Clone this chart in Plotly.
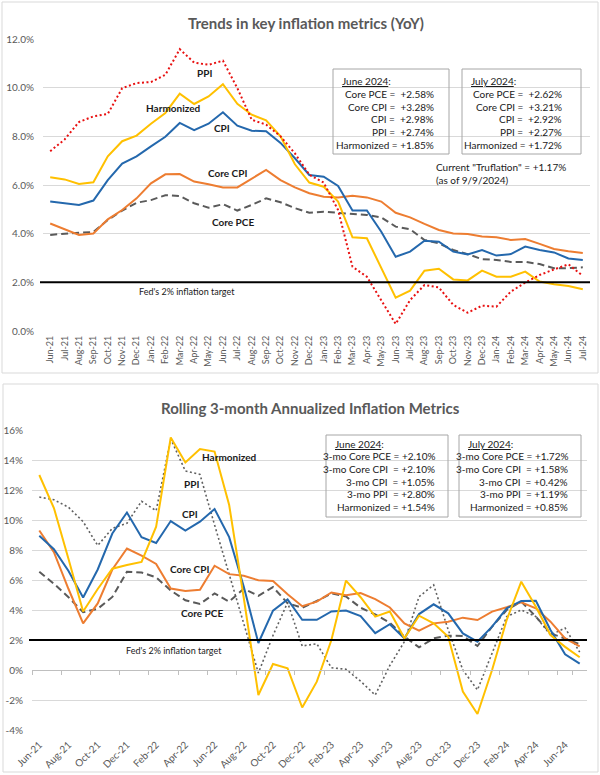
import plotly.graph_objects as go

# ---------------- data ----------------
MONTHS = ["Jun-21", "Jul-21", "Aug-21", "Sep-21", "Oct-21", "Nov-21", "Dec-21",
          "Jan-22", "Feb-22", "Mar-22", "Apr-22", "May-22", "Jun-22", "Jul-22",
          "Aug-22", "Sep-22", "Oct-22", "Nov-22", "Dec-22", "Jan-23", "Feb-23",
          "Mar-23", "Apr-23", "May-23", "Jun-23", "Jul-23", "Aug-23", "Sep-23",
          "Oct-23", "Nov-23", "Dec-23", "Jan-24", "Feb-24", "Mar-24", "Apr-24",
          "May-24", "Jun-24", "Jul-24"]

# Chart 1: year-over-year (%)
YOY_PPI = [7.39, 7.87, 8.59, 8.82, 8.92, 9.98, 10.19, 10.23, 10.53, 11.58, 11.03, 10.94,
           11.11, 9.98, 8.68, 8.48, 8.0, 7.3, 6.42, 6.1, 4.97, 2.64, 2.23, 1.27, 0.29,
           1.27, 1.89, 1.79, 1.07, 0.75, 1.04, 1.0, 1.62, 1.99, 2.30, 2.53, 2.74, 2.27]
YOY_HARMONIZED = [6.32, 6.23, 6.04, 6.11, 7.18, 7.8, 8.03, 8.52, 8.96, 9.75, 9.33, 9.64,
                  10.14, 9.34, 8.89, 8.66, 8.0, 6.85, 6.1, 5.93, 5.32, 3.85, 3.81, 2.58,
                  1.37, 1.66, 2.48, 2.56, 2.12, 2.08, 2.48, 2.23, 2.23, 2.44, 2.03, 1.92,
                  1.85, 1.72]
YOY_CPI = [5.32, 5.25, 5.18, 5.36, 6.2, 6.88, 7.18, 7.59, 7.98, 8.55, 8.25, 8.52, 8.99,
           8.44, 8.23, 8.21, 7.73, 7.1, 6.41, 6.34, 5.96, 4.95, 4.95, 4.08, 3.05, 3.26,
           3.71, 3.67, 3.26, 3.15, 3.33, 3.10, 3.16, 3.47, 3.33, 3.23, 2.98, 2.92]
YOY_CORE_CPI = [4.42, 4.18, 3.95, 4.01, 4.59, 4.97, 5.45, 6.07, 6.44, 6.45, 6.14, 6.03,
                5.9, 5.9, 6.27, 6.62, 6.2, 5.9, 5.66, 5.52, 5.49, 5.56, 5.49, 5.32, 4.86,
                4.67, 4.4, 4.15, 4.01, 3.99, 3.88, 3.85, 3.74, 3.78, 3.58, 3.37, 3.28, 3.21]
YOY_CORE_PCE = [3.95, 4.01, 4.04, 4.07, 4.56, 4.95, 5.27, 5.38, 5.58, 5.55, 5.25, 5.07,
                5.21, 4.95, 5.18, 5.45, 5.29, 5.05, 4.86, 4.9, 4.86, 4.79, 4.77, 4.67,
                4.29, 4.18, 3.74, 3.6, 3.33, 3.16, 2.95, 2.92, 2.84, 2.84, 2.75, 2.58,
                2.58, 2.62]

# Chart 2: rolling 3-month annualized (%)
R3_PPI = [11.53, 11.35, 10.85, 9.89, 8.3, 9.44, 9.78, 11.25, 10.62, 15.4, 13.27, 13.04,
          9.67, 6.4, 3.0, -0.2, 2.3, 4.5, 1.6, 1.75, 0.15, 0.05, -0.75, -1.67, 0.3, 1.89,
          4.89, 5.67, 2.67, 0.0, -1.33, 1.11, 3.56, 4.0, 3.56, 2.33, 2.80, 1.19]
R3_HARMONIZED = [13.0, 10.8, 7.4, 3.9, 5.4, 6.75, 7.0, 7.2, 9.56, 15.5, 13.84, 14.73,
                 14.56, 11.0, 4.8, -1.67, 0.4, 0.11, -2.5, -0.78, 2.0, 5.96, 4.85, 3.56,
                 3.9, 2.11, 3.62, 3.11, 2.22, -1.44, -2.93, 0.0, 3.33, 5.89, 4.22, 2.33,
                 1.54, 0.85]
R3_CPI = [8.95, 8.05, 6.6, 4.83, 6.7, 9.1, 10.5, 8.85, 8.47, 9.93, 9.29, 9.89, 10.73,
          8.86, 5.55, 1.8, 3.96, 4.7, 3.35, 3.35, 3.9, 3.96, 3.6, 2.46, 3.05, 2.11, 3.73,
          4.38, 3.78, 2.44, 1.89, 2.89, 4.11, 4.6, 4.62, 2.67, 1.05, 0.42]
R3_CORE_CPI = [9.3, 7.85, 5.4, 3.11, 4.44, 6.7, 8.1, 7.62, 7.07, 5.43, 5.27, 5.35, 6.95,
               6.39, 6.28, 5.98, 5.93, 5.05, 4.25, 4.56, 5.17, 4.98, 5.13, 4.72, 4.17,
               3.11, 2.62, 3.11, 3.22, 3.49, 3.33, 3.89, 4.18, 4.51, 4.11, 3.22, 2.10, 1.58]
R3_CORE_PCE = [6.55, 5.75, 4.85, 3.85, 4.08, 4.87, 6.55, 6.5, 6.18, 5.3, 4.65, 4.4, 5.1,
               4.56, 5.42, 4.95, 5.53, 4.45, 4.15, 4.6, 5.11, 4.9, 4.15, 3.7, 3.15, 2.22,
               1.51, 2.11, 2.29, 2.27, 1.6, 2.89, 4.0, 4.56, 3.56, 2.44, 2.10, 1.72]

FED_TARGET = 2.0
TRUFLATION = 1.17
TRUFLATION_DATE = "9/9/2024"

Y1_TICKS = [0, 2, 4, 6, 8, 10, 12]
Y1_TICKTEXT = ["0.0%", "2.0%", "4.0%", "6.0%", "8.0%", "10.0%", "12.0%"]
Y2_TICKS = [-4, -2, 0, 2, 4, 6, 8, 10, 12, 14, 16]
Y2_TICKTEXT = ["-4%", "-2%", "0%", "2%", "4%", "6%", "8%", "10%", "12%", "14%", "16%"]

# ---------------- layout helpers ----------------
W, H = 600, 775
FONT = "Lato, 'Open Sans', sans-serif"
GRID = "#d9d9d9"
AXTXT = "#595959"


def px(x):
    return x / W


def py(y):
    return 1 - y / H


C_PPI = "#e81010"
C_HARM = "#ffc000"
C_CPI = "#2468ad"
C_CORECPI = "#ed7d31"
C_COREPCE = "#5a5a5a"

fig = go.Figure()

# chart 1 traces
chart1 = [
    ("Core PCE", YOY_CORE_PCE, dict(color=C_COREPCE, width=2, dash="7px,4px")),
    ("Core CPI", YOY_CORE_CPI, dict(color=C_CORECPI, width=2)),
    ("CPI", YOY_CPI, dict(color=C_CPI, width=2)),
    ("Harmonized", YOY_HARMONIZED, dict(color=C_HARM, width=2)),
    ("PPI", YOY_PPI, dict(color=C_PPI, width=2, dash="2px,2.5px")),
]
for name, vals, line in chart1:
    fig.add_trace(go.Scatter(x=MONTHS, y=vals, mode="lines", line=line, name=name,
                             xaxis="x", yaxis="y", showlegend=False, hoverinfo="skip"))

# chart 2 traces
chart2 = [
    ("PPI", R3_PPI, dict(color="#606060", width=1.6, dash="2px,2.5px")),
    ("Core PCE", R3_CORE_PCE, dict(color=C_COREPCE, width=2, dash="7px,4px")),
    ("Core CPI", R3_CORE_CPI, dict(color=C_CORECPI, width=2)),
    ("CPI", R3_CPI, dict(color=C_CPI, width=2)),
    ("Harmonized", R3_HARMONIZED, dict(color=C_HARM, width=2)),
]
for name, vals, line in chart2:
    fig.add_trace(go.Scatter(x=MONTHS, y=vals, mode="lines", line=line, name=name,
                             xaxis="x2", yaxis="y2", showlegend=False, hoverinfo="skip"))

# dummy trace for the zero-line axis with ticks (chart 2)
fig.add_trace(go.Scatter(x=MONTHS, y=[None] * len(MONTHS), mode="lines",
                         xaxis="x3", yaxis="y2", showlegend=False, hoverinfo="skip"))

# plot areas (pixel geometry)
P1 = dict(l=43, r=590, t=39, b=331)
P2 = dict(l=32, r=587, t=430, b=730)

rng = [-0.5, len(MONTHS) - 0.5]

fig.update_layout(
    width=W, height=H, autosize=False,
    margin=dict(l=0, r=0, t=0, b=0, pad=0),
    paper_bgcolor="white", plot_bgcolor="white",
    font=dict(family=FONT, color=AXTXT),
    showlegend=False,
    xaxis=dict(domain=[px(P1["l"]), px(P1["r"])], anchor="y", type="category",
               categoryorder="array", categoryarray=MONTHS, range=rng,
               tickangle=-90, tickfont=dict(size=9, color=AXTXT), showgrid=False,
               zeroline=False, showline=False, ticks="", ticklabelstandoff=2,
               tickmode="array", tickvals=MONTHS, ticktext=MONTHS, automargin=False),
    yaxis=dict(domain=[py(P1["b"]), py(P1["t"])], anchor="x", range=[0, 12],
               tickmode="array", tickvals=Y1_TICKS, ticktext=Y1_TICKTEXT,
               tickfont=dict(size=10, color=AXTXT), gridcolor=GRID, gridwidth=1,
               zeroline=False, showline=False, ticklabelstandoff=8, automargin=False),
    xaxis2=dict(domain=[px(P2["l"]), px(P2["r"])], anchor="y2", type="category",
                categoryorder="array", categoryarray=MONTHS, range=rng,
                tickangle=-45, tickfont=dict(size=10, color=AXTXT), showgrid=False,
                zeroline=False, showline=False, ticks="", ticklabelstandoff=6,
                tickmode="array", tickvals=MONTHS[::2], ticktext=MONTHS[::2],
                automargin=False),
    yaxis2=dict(domain=[py(P2["b"]), py(P2["t"])], anchor="x2", range=[-4, 16],
                tickmode="array", tickvals=Y2_TICKS, ticktext=Y2_TICKTEXT,
                tickfont=dict(size=10, color=AXTXT), gridcolor=GRID, gridwidth=1,
                zeroline=False, showline=False, ticklabelstandoff=8, automargin=False),
    xaxis3=dict(overlaying="x2", anchor="free", position=py(670), type="category",
                categoryorder="array", categoryarray=MONTHS, range=rng,
                tickmode="array", tickvals=MONTHS[::2], tickson="boundaries",
                ticks="outside", ticklen=4, tickcolor="#bfbfbf", showticklabels=False,
                showgrid=False, zeroline=False, showline=True, linecolor="#bfbfbf",
                linewidth=1, automargin=False),
)

shapes = []
# outer chart borders
shapes.append(dict(type="rect", xref="paper", yref="paper", x0=px(2), x1=px(598),
                   y0=py(373), y1=py(2), line=dict(color="#d9d9d9", width=1)))
shapes.append(dict(type="rect", xref="paper", yref="paper", x0=px(3), x1=px(598),
                   y0=py(772), y1=py(384), line=dict(color="#d9d9d9", width=1)))
# Fed target lines
shapes.append(dict(type="line", xref="paper", yref="y", x0=px(40), x1=px(590),
                   y0=FED_TARGET, y1=FED_TARGET, line=dict(color="black", width=2)))
shapes.append(dict(type="line", xref="paper", yref="y2", x0=px(29), x1=px(587),
                   y0=FED_TARGET, y1=FED_TARGET, line=dict(color="black", width=2)))
# text boxes
for (x0, x1, y0, y1) in [(333, 449, 69, 154), (462, 581, 69, 154),
                         (326, 448, 435, 517), (459, 581, 435, 517)]:
    shapes.append(dict(type="rect", xref="paper", yref="paper", x0=px(x0), x1=px(x1),
                       y0=py(y1), y1=py(y0), line=dict(color="#a6a6a6", width=1)))
fig.update_layout(shapes=shapes)

ann = []


def text(x, y, s, size=10, bold=False, xanchor="center", color="#1a1a1a"):
    ann.append(dict(xref="paper", yref="paper", x=px(x), y=py(y), text=s,
                    showarrow=False, xanchor=xanchor, yanchor="middle",
                    font=dict(family=FONT, size=size, color=color,
                              weight="bold" if bold else "normal")))


# titles
text(306, 23, "Trends in key inflation metrics (YoY)", size=15, bold=True, color=AXTXT)
text(310, 408, "Rolling 3-month Annualized Inflation Metrics", size=15, bold=True,
     color=AXTXT)

# series labels chart 1
text(204, 73, "PPI", bold=True)
text(173, 108, "Harmonized", bold=True)
text(222, 128, "CPI", bold=True)
text(227, 173, "Core CPI", bold=True)
text(233, 222, "Core PCE", bold=True)
text(187, 292, "Fed's 2% inflation target", size=9)

# series labels chart 2
text(229, 457, "Harmonized", bold=True)
text(191, 484, "PPI", bold=True)
text(190, 514, "CPI", bold=True)
text(189, 569, "Core CPI", bold=True)
text(202, 613, "Core PCE", bold=True)
text(174, 650, "Fed's 2% inflation target", size=9)

NB = "\u00a0"
JUN = MONTHS.index("Jun-24")
JUL = MONTHS.index("Jul-24")


def box(heading, hx, rx, ys, rows, idx):
    text(hx, ys[0], f"<u>{heading}</u>:", xanchor="left")
    for (label, vals), y in zip(rows, ys[1:]):
        text(rx, y, f"{label}{NB}+{vals[idx]:.2f}%", xanchor="right")


rows1 = [("Core PCE =" + NB, YOY_CORE_PCE), ("Core CPI =" + NB, YOY_CORE_CPI),
         ("CPI =" + NB, YOY_CPI), ("PPI =" + NB, YOY_PPI),
         ("Harmonized =", YOY_HARMONIZED)]
ys1 = [81, 94, 107, 119, 132, 145]
box("June 2024", 340, 436, ys1, rows1, JUN)
box("July 2024", 469, 564, ys1, rows1, JUL)

rows2 = [("3-mo Core PCE =", R3_CORE_PCE), ("3-mo Core CPI" + NB + " =", R3_CORE_CPI),
         ("3-mo CPI" + NB + " =", R3_CPI), ("3-mo PPI" + NB + " =", R3_PPI),
         ("Harmonized =", R3_HARMONIZED)]
ys2 = [444, 456, 469, 482, 494, 507]
box("June 2024", 333, 437, ys2, rows2, JUN)
box("July 2024", 466, 570, ys2, rows2, JUL)

text(434, 167, f"Current \"Truflation\" = +{TRUFLATION:.2f}%", xanchor="left")
text(434, 180, f"(as of {TRUFLATION_DATE})", xanchor="left")

fig.update_layout(annotations=ann)
fig.write_html(
    "out.html",
    config={"displayModeBar": False, "staticPlot": True},
    post_script="document.body.style.margin='0';document.body.style.overflow='hidden';",
)
